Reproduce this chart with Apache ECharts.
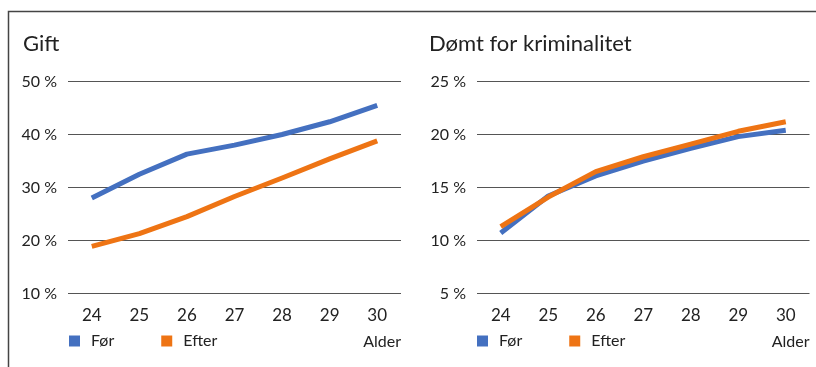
<!DOCTYPE html>
<html>
<head>
<meta charset="utf-8">
<script src="https://cdn.jsdelivr.net/npm/echarts@6/dist/echarts.min.js"></script>
<style>
  html, body { margin: 0; padding: 0; background: #fff; }
  #chart { width: 816px; height: 367px; }
</style>
</head>
<body>
<div id="chart"></div>
<script>
// Ages on the x axis (shared by both panels)
const ages = ['24', '25', '26', '27', '28', '29', '30'];

// Panel 1: share married (%)
const giftFor   = [28.0, 32.5, 36.3, 38.0, 40.0, 42.4, 45.5];
const giftEfter = [18.9, 21.3, 24.5, 28.3, 31.8, 35.4, 38.8];

// Panel 2: share convicted of crime (%)
const domtFor   = [10.7, 14.2, 16.1, 17.5, 18.7, 19.8, 20.4];
const domtEfter = [11.3, 14.1, 16.5, 17.9, 19.1, 20.3, 21.2];

// Y tick settings per panel
const giftTicks = { min: 10, max: 50, interval: 10 };
const domtTicks = { min: 5, max: 25, interval: 5 };

const FONT = 'Lato, "Open Sans", sans-serif';
const TEXT = '#222';
const BLUE = '#4470C0';
const ORANGE = '#EE7414';

function xAxisFor(gridIndex) {
  return {
    type: 'category', gridIndex, data: ages, boundaryGap: true,
    axisLine: { show: false }, axisTick: { show: false },
    axisLabel: { color: TEXT, fontFamily: FONT, fontSize: 17, margin: 14 },
    name: 'Alder', nameLocation: 'end', nameGap: 0,
    nameTextStyle: { color: TEXT, fontFamily: FONT, fontSize: 16, align: 'right',
                     verticalAlign: 'top', padding: [40, 0, 0, 0] }
  };
}
function yAxisFor(gridIndex, t) {
  return {
    type: 'value', gridIndex, min: t.min, max: t.max, interval: t.interval,
    axisLine: { show: false }, axisTick: { show: false },
    axisLabel: { color: TEXT, fontFamily: FONT, fontSize: 16, margin: 11,
                 formatter: '{value} %' },
    splitLine: { show: true, lineStyle: { color: '#555', width: 1 } }
  };
}
function lineSeries(name, data, color, idx) {
  return {
    name, type: 'line', data, xAxisIndex: idx, yAxisIndex: idx,
    showSymbol: false, symbol: 'none', color,
    lineStyle: { width: 5, color, cap: 'butt', join: 'round' },
    emphasis: { disabled: true }
  };
}
function legendFor(left) {
  return {
    left, top: 328, icon: 'rect', itemWidth: 11, itemHeight: 11, itemGap: 47,
    data: ['Før', 'Efter'], selectedMode: false,
    textStyle: { color: TEXT, fontFamily: FONT, fontSize: 16, padding: [0, 0, 0, 6] }
  };
}

const chart = echarts.init(document.getElementById('chart'), null, { renderer: 'canvas' });
chart.setOption({
  animation: false,
  backgroundColor: '#fff',
  title: [
    { text: 'Gift', left: 18, top: 28,
      textStyle: { color: TEXT, fontFamily: FONT, fontSize: 22, fontWeight: 'normal' } },
    { text: 'Dømt for kriminalitet', left: 424, top: 28,
      textStyle: { color: TEXT, fontFamily: FONT, fontSize: 22, fontWeight: 'normal' } }
  ],
  legend: [legendFor(64), legendFor(472)],
  grid: [
    { left: 68, top: 81.5, width: 333, height: 212, containLabel: false },
    { left: 477, top: 81.5, width: 332.5, height: 212, containLabel: false }
  ],
  xAxis: [xAxisFor(0), xAxisFor(1)],
  yAxis: [yAxisFor(0, giftTicks), yAxisFor(1, domtTicks)],
  series: [
    lineSeries('Før', giftFor, BLUE, 0),
    lineSeries('Efter', giftEfter, ORANGE, 0),
    lineSeries('Før', domtFor, BLUE, 1),
    lineSeries('Efter', domtEfter, ORANGE, 1)
  ],
  graphic: [
    // outer frame: top and left edges
    { type: 'polyline', silent: true,
      shape: { points: [[8.5, 367], [8.5, 11.5], [816, 11.5]] },
      style: { stroke: '#444', lineWidth: 1.5, fill: null } }
  ]
});
</script>
</body>
</html>
